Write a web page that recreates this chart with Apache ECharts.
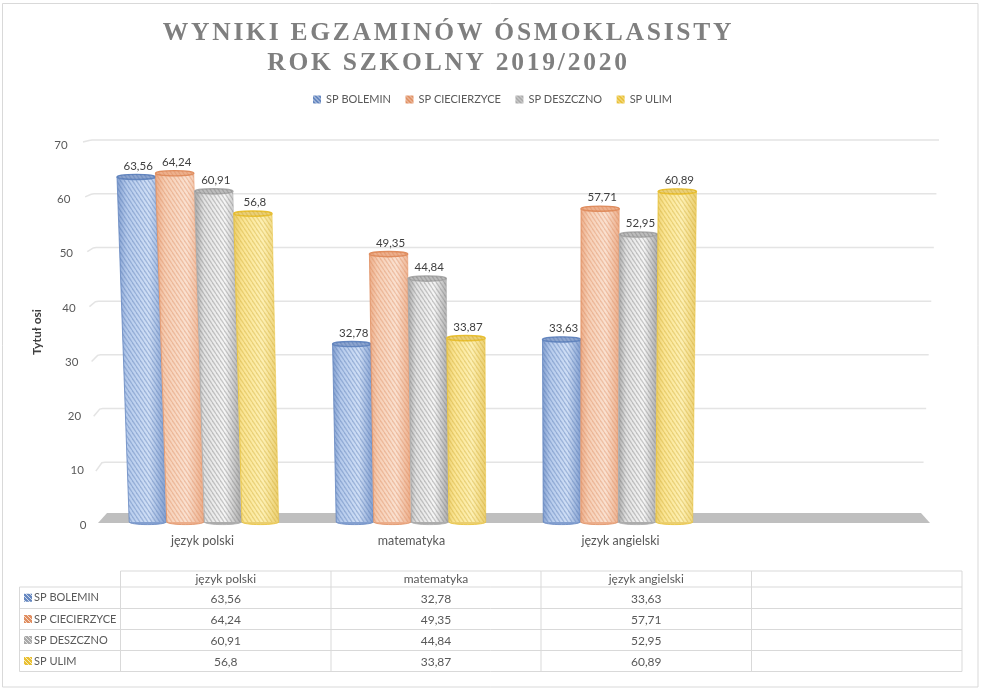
<!DOCTYPE html>
<html><head><meta charset="utf-8">
<style>html,body{margin:0;padding:0;background:#fff}#c{width:982px;height:690px}</style>
<script src="https://cdn.jsdelivr.net/npm/echarts@6/dist/echarts.min.js"></script>
</head><body><div id="c"></div>
<script>
const categories = ['język polski', 'matematyka', 'język angielski', ''];
const schools = ['SP BOLEMIN', 'SP CIECIERZYCE', 'SP DESZCZNO', 'SP ULIM'];
const bolemin = [63.56, 32.78, 33.63];
const ciecierzyce = [64.24, 49.35, 57.71];
const deszczno = [60.91, 44.84, 52.95];
const ulim = [56.8, 33.87, 60.89];
const ticks = [0, 10, 20, 30, 40, 50, 60, 70];
const seriesValues = [bolemin, ciecierzyce, deszczno, ulim];

const FONT = 'Lato, sans-serif';
const palettes = [
  {edge:'#6587c0', dark:'#84a0d0', mid:'#b6cbec', light:'#d0dff6', hatch:'rgba(75,110,172,0.36)', cap:'#8ea6cf'},
  {edge:'#e08e60', dark:'#ecae8b', mid:'#f6cfb6', light:'#fae1d1', hatch:'rgba(215,125,75,0.32)', cap:'#edb08d'},
  {edge:'#a9a9a9', dark:'#acacac', mid:'#e2e2e2', light:'#f6f6f6', hatch:'rgba(115,115,115,0.36)', cap:'#bdbdbd'},
  {edge:'#e9c032', dark:'#ebcf70', mid:'#fae594', light:'#fdf0b4', hatch:'rgba(200,160,30,0.32)', cap:'#ead07a'}
];

// Title tracking: canvas letter spacing for the serif title only
const nativeFill = CanvasRenderingContext2D.prototype.fillText;
CanvasRenderingContext2D.prototype.fillText = function (t, x, y, m) {
  this.letterSpacing = this.font.indexOf('Liberation Serif') >= 0 ? '2.75px' : '0px';
  return m === undefined ? nativeFill.call(this, t, x, y) : nativeFill.call(this, t, x, y, m);
};

function hatchTile(color, back, w, h, lw) {
  const c = document.createElement('canvas');
  c.width = w; c.height = h;
  const g = c.getContext('2d');
  if (back) { g.fillStyle = back; g.fillRect(0, 0, w, h); }
  g.strokeStyle = color; g.lineWidth = lw;
  for (let i = -1; i <= 1; i++) {
    g.beginPath(); g.moveTo(i * w, 0); g.lineTo(i * w + w, h); g.stroke();
  }
  return {image: c, repeat: 'repeat'};
}
const hatches = palettes.map(p => hatchTile(p.hatch, null, 4, 6, 1.3));
const swatches = palettes.map(p => hatchTile('rgba(255,255,255,0.7)', p.edge, 4, 4, 1));

const PERSP = 0.000436, VANISH = 562;

function cylinder(si) {
  const p = palettes[si];
  return function (params, api) {
    const cat = api.value(0), v = api.value(1);
    const base = api.coord([cat, 0]), top = api.coord([cat, v]);
    const band = api.size([1, 0])[0];
    const bx = base[0] + (si - 1.5) * band * 0.1815;
    const tx = bx + (bx - VANISH) * PERSP * v;
    const bw = band * 0.178, tw = band * 0.185;
    const by = base[1], ty = top[1];
    const ry = 2.6, pts = [[tx - tw / 2, ty], [tx + tw / 2, ty], [bx + bw / 2, by], [bx - bw / 2, by]];
    const grad = new echarts.graphic.LinearGradient(0, 0, 1, 0, [
      {offset: 0, color: p.dark}, {offset: 0.2, color: p.mid}, {offset: 0.65, color: p.light}, {offset: 1, color: p.dark}]);
    return {type: 'group', children: [
      {type: 'ellipse', shape: {cx: bx, cy: by, rx: bw / 2, ry: ry}, style: {fill: p.dark, stroke: p.edge, lineWidth: 0.8}},
      {type: 'polygon', shape: {points: pts}, style: {fill: grad}},
      {type: 'polygon', shape: {points: pts}, style: {fill: hatches[si]}},
      {type: 'line', shape: {x1: pts[0][0], y1: pts[0][1], x2: pts[3][0], y2: pts[3][1]}, style: {stroke: p.edge, lineWidth: 1, opacity: 0.8}},
      {type: 'line', shape: {x1: pts[1][0], y1: pts[1][1], x2: pts[2][0], y2: pts[2][1]}, style: {stroke: p.edge, lineWidth: 0.8, opacity: 0.55}},
      {type: 'ellipse', shape: {cx: tx, cy: ty, rx: tw / 2, ry: ry}, style: {fill: p.cap, stroke: p.edge, lineWidth: 1.4}},
      {type: 'ellipse', shape: {cx: tx, cy: ty, rx: tw / 2, ry: ry}, style: {fill: hatches[si]}},
      {type: 'text', x: tx + 2, y: ty - 11, style: {text: String(v).replace('.', ','), fill: '#404040', font: '11.5px ' + FONT, align: 'center', verticalAlign: 'middle'}}
    ]};
  };
}

const series = schools.map((name, si) => ({
  name, type: 'custom', xAxisIndex: 0, yAxisIndex: 0, z: 5 + si,
  itemStyle: {color: palettes[si].edge},
  renderItem: cylinder(si), clip: false,
  data: seriesValues[si].map((v, i) => [i, v])
}));

// back wall grid lines
series.push({
  type: 'custom', xAxisIndex: 1, yAxisIndex: 1, z: 2, silent: true, clip: false,
  renderItem(params, api) {
    const cs = params.coordSys, t = api.value(1), y = api.coord([0, t])[1];
    const f = t / 70;
    if (t === 0) return null;
    const xl = cs.x - f * 15, xr = cs.x + cs.width + f * 18;
    return {type: 'polyline', shape: {points: [[xl - 9, y + 10 - f * 8], [xl - 3, y + 0.5], [xl, y], [xr, y]]},
      style: {stroke: '#e4e4e4', lineWidth: 1.5, fill: 'none'}};
  },
  data: ticks.map(t => [0, t])
});
// floor
series.push({
  type: 'custom', xAxisIndex: 1, yAxisIndex: 1, z: 3, silent: true, clip: false,
  renderItem(params, api) {
    const cs = params.coordSys, y = api.coord([0, 0])[1] - 3;
    return {type: 'polygon', shape: {points: [[cs.x, y], [cs.x + cs.width, y], [cs.x + cs.width + 9, y + 10], [cs.x - 9, y + 10]]},
      style: {fill: '#bfbfbf'}};
  },
  data: [[0, 0]]
});

// data table
const T = {x: [19.5, 120.5, 331, 541, 751.5, 962], y: [571, 587, 608.5, 629.5, 650.5, 671.5]};
const lineStyle = {stroke: '#d9d9d9', lineWidth: 1};
const tbl = [];
T.y.forEach((y, i) => tbl.push({type: 'line', shape: {x1: i === 0 ? T.x[1] : T.x[0], y1: y, x2: T.x[5], y2: y}, style: lineStyle}));
T.x.forEach((x, i) => tbl.push({type: 'line', shape: {x1: x, y1: i === 0 ? T.y[1] : T.y[0], x2: x, y2: T.y[5]}, style: lineStyle}));
const cellFont = '12px ' + FONT, headFont = '11px ' + FONT;
categories.forEach((c, i) => { if (c) tbl.push({type: 'text', x: (T.x[i + 1] + T.x[i + 2]) / 2, y: 579,
  style: {text: c, fill: '#595959', font: cellFont, align: 'center', verticalAlign: 'middle'}}); });
schools.forEach((s, r) => {
  const cy = (T.y[r + 1] + T.y[r + 2]) / 2;
  tbl.push({type: 'rect', shape: {x: 24, y: cy - 4, width: 8, height: 8}, style: {fill: swatches[r]}});
  tbl.push({type: 'text', x: 34, y: cy, style: {text: s, fill: '#595959', font: headFont, verticalAlign: 'middle'}});
  seriesValues[r].forEach((v, i) => tbl.push({type: 'text', x: (T.x[i + 1] + T.x[i + 2]) / 2, y: cy + 1,
    style: {text: String(v).replace('.', ','), fill: '#595959', font: cellFont, align: 'center', verticalAlign: 'middle'}}));
});

const tickRich = {};
ticks.forEach(t => { tickRich['t' + t] = {padding: [6, t * 0.27, 0, 0], color: '#595959', fontSize: 11.5, fontFamily: FONT}; });

const chart = echarts.init(document.getElementById('c'), null, {renderer: 'canvas'});
chart.setOption({
  animation: false, backgroundColor: '#fff',
  title: {text: 'WYNIKI EGZAMINÓW ÓSMOKLASISTY\nROK SZKOLNY 2019/2020', left: 443.5, top: 13, textAlign: 'center',
    textStyle: {fontFamily: '"Liberation Serif"', fontWeight: 'bold', fontSize: 25.5, lineHeight: 30, color: '#7f7f7f'}},
  legend: {left: 308, top: 89, itemWidth: 8, itemHeight: 8, itemGap: 14.5, icon: 'rect',
    data: schools.map((s, i) => ({name: s, itemStyle: {color: swatches[i]}})),
    textStyle: {color: '#595959', fontSize: 11, fontFamily: FONT}},
  grid: [
    {left: 100.5, width: 828, top: 142, bottom: 168},
    {left: 107, width: 814, top: 140, bottom: 174},
    {left: 98, width: 836, top: 142, bottom: 168}
  ],
  xAxis: [
    {type: 'category', gridIndex: 0, data: categories, show: false},
    {type: 'category', gridIndex: 1, data: categories, show: false},
    {type: 'category', gridIndex: 2, data: categories, axisLine: {show: false}, axisTick: {show: false},
      axisLabel: {margin: 12, color: '#595959', fontSize: 12.5, fontFamily: FONT, interval: 0}}
  ],
  yAxis: [
    {type: 'value', gridIndex: 0, min: 0, max: 70, interval: 10, splitLine: {show: false}, axisLine: {show: false}, axisTick: {show: false},
      name: 'Tytuł osi', nameLocation: 'middle', nameGap: 48, nameTextStyle: {fontWeight: 'bold', fontSize: 12, color: '#404040', fontFamily: FONT},
      axisLabel: {margin: 14, formatter: v => `{t${v}|${v}}`, rich: tickRich}},
    {type: 'value', gridIndex: 1, min: 0, max: 70, interval: 10, show: false},
    {type: 'value', gridIndex: 2, min: 0, max: 70, interval: 10, show: false}
  ],
  series,
  graphic: [
    {type: 'rect', z: 0, shape: {x: 2.5, y: 3.5, width: 975.5, height: 683.5}, style: {fill: 'none', stroke: '#d9d9d9', lineWidth: 1}},
    {type: 'group', z: 1, children: tbl}
  ]
});
</script></body></html>
